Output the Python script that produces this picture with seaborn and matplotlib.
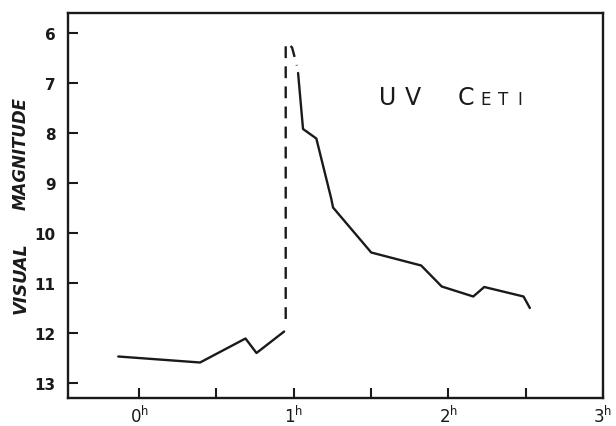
import matplotlib
matplotlib.use("Agg")
import matplotlib.pyplot as plt
import seaborn as sns
import pandas as pd

# light curve of the flare (hours, visual magnitude)
pre_hours = [-0.135, 0.394, 0.688, 0.759, 0.938]
pre_mag = [12.47, 12.59, 12.11, 12.40, 11.97]

rise_hours = [0.948, 0.948, 0.968, 0.99, 1.02]
rise_mag = [11.72, 6.25, 6.2, 6.3, 6.65]

post_hours = [1.028, 1.06, 1.146, 1.243, 1.254, 1.501, 1.824, 1.957, 2.161, 2.232, 2.486, 2.527]
post_mag = [6.80, 7.92, 8.11, 9.32, 9.49, 10.39, 10.65, 11.07, 11.27, 11.08, 11.27, 11.50]

y_ticks = [6, 7, 8, 9, 10, 11, 12, 13]
x_ticks = [0, 1, 2, 3]
x_labels = [r"$\mathregular{0^h}$", r"$\mathregular{1^h}$", r"$\mathregular{2^h}$", r"$\mathregular{3^h}$"]
x_minor = [0.5, 1.5, 2.5]

sns.set_style("ticks")
plt.rcParams['font.family'] = ['DejaVu Sans']

fig = plt.figure(figsize=(6.16, 4.27), dpi=100)
ax = fig.add_axes([68 / 616, 1 - 399 / 427, (603 - 68) / 616, (399 - 14) / 427])

ink = "#1a1a1a"
pre = pd.DataFrame({"h": pre_hours, "mag": pre_mag})
rise = pd.DataFrame({"h": rise_hours, "mag": rise_mag})
post = pd.DataFrame({"h": post_hours, "mag": post_mag})

sns.lineplot(data=pre, x="h", y="mag", ax=ax, color=ink, lw=1.7,
             estimator=None, sort=False)
sns.lineplot(data=rise, x="h", y="mag", ax=ax, color=ink, lw=1.7,
             estimator=None, sort=False, linestyle=(0, (5, 3.5)))
sns.lineplot(data=post, x="h", y="mag", ax=ax, color=ink, lw=1.7,
             estimator=None, sort=False)

ax.set_xlim(-0.46, 2.99)
ax.set_ylim(13.3, 5.6)
ax.set_yticks(y_ticks)
ax.set_yticklabels([str(v) for v in y_ticks], fontsize=11, fontweight="bold", color=ink)
ax.set_xticks(x_ticks)
ax.set_xticklabels(x_labels, fontsize=12, color=ink)
ax.set_xticks(x_minor, minor=True)
ax.tick_params(axis="both", which="both", direction="in", length=7, width=1.5, color=ink)
ax.tick_params(axis="y", pad=9)
ax.tick_params(axis="x", pad=5)
ax.set_xlabel("")
ax.set_ylabel("")
for s in ax.spines.values():
    s.set_linewidth(1.7)
    s.set_color(ink)

fig.text(21 / 616, 1 - 154 / 427, "MAGNITUDE", rotation=90, ha="center", va="center",
         fontsize=12, fontweight="bold", fontstyle="italic", color=ink)
fig.text(21 / 616, 1 - 278 / 427, "VISUAL", rotation=90, ha="center", va="center",
         fontsize=12.8, fontweight="bold", fontstyle="italic", color=ink)

# title lettering, wide-spaced small caps
title_letters = ["U", "V", "C", "E", "T", "I"]
letter_x = [388, 413, 466, 486, 503, 520]
letter_size = [17, 17, 17, 12, 12, 12]
for ch, px, fs in zip(title_letters, letter_x, letter_size):
    fig.text(px / 616, 1 - 105 / 427, ch, ha="center", va="baseline",
             fontsize=fs, color=ink)

fig.savefig("out.png", dpi=100)
